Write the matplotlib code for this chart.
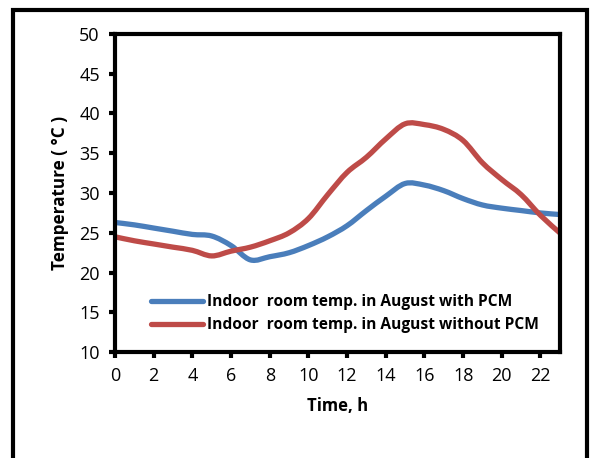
import matplotlib
matplotlib.use('Agg')
import matplotlib.pyplot as plt
from matplotlib.patches import Rectangle, PathPatch
from matplotlib.path import Path
from matplotlib.lines import Line2D
import numpy as np

hours = list(range(24))
with_pcm = [26.3, 26.0, 25.6, 25.2, 24.8, 24.6, 23.4, 21.6, 22.0, 22.5, 23.4, 24.5,
            25.9, 27.8, 29.6, 31.2, 31.0, 30.3, 29.3, 28.5, 28.1, 27.8, 27.5, 27.3]
without_pcm = [24.5, 24.0, 23.6, 23.2, 22.8, 22.1, 22.7, 23.2, 24.0, 25.0, 26.8, 29.8,
               32.6, 34.5, 36.8, 38.7, 38.6, 38.0, 36.6, 33.8, 31.7, 29.8, 27.2, 25.0]
labels = ['Indoor  room temp. in August with PCM',
          'Indoor  room temp. in August without PCM']
colors = ['#4A7EBB', '#BE4B48']
xticks = list(range(0, 24, 2))
yticks = list(range(10, 55, 5))

plt.rcParams['font.family'] = ['Open Sans', 'DejaVu Sans']


def smooth_path(x, y):
    # Excel-style smoothed line: cubic Bezier segments through each point
    x = np.asarray(x, float)
    y = np.asarray(y, float)
    verts = [(x[0], y[0])]
    codes = [Path.MOVETO]
    n = len(x)
    for i in range(n - 1):
        x0, y0 = (x[i - 1], y[i - 1]) if i > 0 else (x[i], y[i])
        x3, y3 = (x[i + 2], y[i + 2]) if i + 2 < n else (x[i + 1], y[i + 1])
        c1 = (x[i] + (x[i + 1] - x0) / 6, y[i] + (y[i + 1] - y0) / 6)
        c2 = (x[i + 1] - (x3 - x[i]) / 6, y[i + 1] - (y3 - y[i]) / 6)
        verts += [c1, c2, (x[i + 1], y[i + 1])]
        codes += [Path.CURVE4] * 3
    return Path(verts, codes)


fig = plt.figure(figsize=(5.93, 4.58), dpi=100)
ax = fig.add_axes([0.194, 0.231, 0.75, 0.695])

for ys, c in zip([with_pcm, without_pcm], colors):
    ax.add_patch(PathPatch(smooth_path(hours, ys), fill=False, edgecolor=c,
                           lw=3.8, joinstyle='round', capstyle='butt', clip_on=True))

ax.set_xlim(0, 23)
ax.set_ylim(10, 50)
ax.set_xticks(xticks)
ax.set_yticks(yticks)
ax.tick_params(direction='out', length=4, width=3, labelsize=13, pad=7)
for s in ax.spines.values():
    s.set_linewidth(3)

ax.set_xlabel('Time, h', fontsize=12, fontweight='bold', labelpad=8)
ax.set_ylabel('Temperature ( °C )', fontsize=12.3, fontweight='bold', labelpad=7)

handles = [Line2D([], [], color=c, lw=3.8, solid_capstyle='round') for c in colors]
ax.legend(handles, labels, loc='lower left', bbox_to_anchor=(0.05, 0.015), frameon=False,
          handlelength=3.3, handletextpad=0.3, labelspacing=0.45,
          prop={'weight': 'bold', 'size': 11.2})

# outer frame around the chart
fig.patches.append(Rectangle((13 / 593, -0.1), 574 / 593, 1.1 - 10 / 458,
                             transform=fig.transFigure, fill=False, lw=3,
                             edgecolor='black'))

fig.savefig('out.png', dpi=100)
